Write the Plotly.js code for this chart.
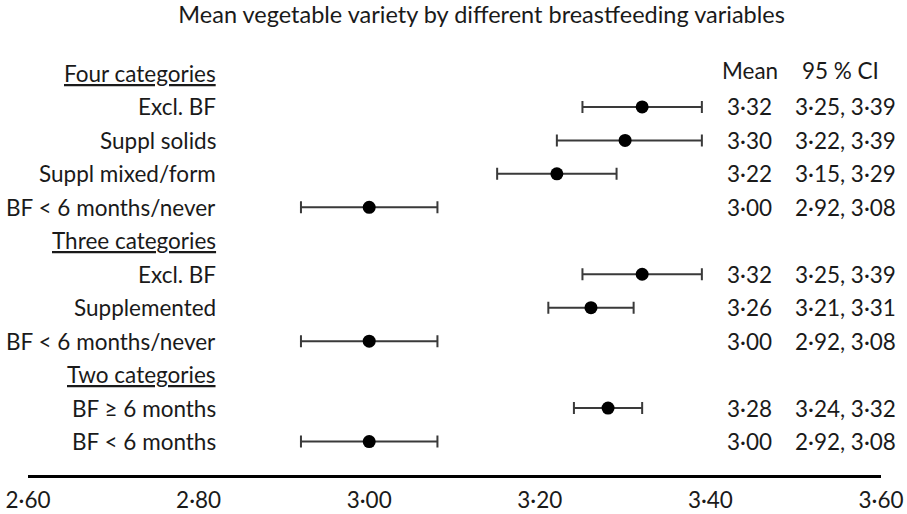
<!DOCTYPE html>
<html>
<head>
<meta charset="utf-8">
<script src="https://cdn.plot.ly/plotly-3.0.1.min.js"></script>
<style>html,body{margin:0;padding:0;background:#fff;}#chart{width:907px;height:514px;}</style>
</head>
<body>
<div id="chart"></div>
<script>
// Rows from top to bottom (headers have null values)
const rowLabels = ["Four categories", "Excl. BF", "Suppl solids", "Suppl mixed/form", "BF < 6 months/never",
  "Three categories", "Excl. BF", "Supplemented", "BF < 6 months/never",
  "Two categories", "BF \u2265 6 months", "BF < 6 months"];
const isHeader = [true, false, false, false, false, true, false, false, false, true, false, false];
const means = [null, 3.32, 3.30, 3.22, 3.00, null, 3.32, 3.26, 3.00, null, 3.28, 3.00];
const lower = [null, 3.25, 3.22, 3.15, 2.92, null, 3.25, 3.21, 2.92, null, 3.24, 2.92];
const upper = [null, 3.39, 3.39, 3.29, 3.08, null, 3.39, 3.31, 3.08, null, 3.32, 3.08];
const tickVals = [2.6, 2.8, 3.0, 3.2, 3.4, 3.6];
const tickText = ["2\u00b760", "2\u00b780", "3\u00b700", "3\u00b720", "3\u00b740", "3\u00b760"];

const fmt = v => v.toFixed(2).replace('.', '\u00b7');
const FONT = "Lato, 'Open Sans', sans-serif";
const TXT = "#1a1a1a";
const FS = 22.5;

const xs = [], ys = [], ep = [], em = [];
means.forEach((m, i) => {
  if (m === null) return;
  xs.push(m); ys.push(i);
  ep.push(upper[i] - m); em.push(m - lower[i]);
});

const trace = {
  type: 'scatter', mode: 'markers', x: xs, y: ys,
  marker: {color: '#000', size: 13},
  error_x: {type: 'data', symmetric: false, array: ep, arrayminus: em,
            color: '#3a3a3a', thickness: 2, width: 6},
  hoverinfo: 'skip', showlegend: false
};

const ann = [];
rowLabels.forEach((lab, i) => {
  ann.push({xref: 'paper', yref: 'y', x: 0.2227, y: i, xanchor: 'right', yanchor: 'middle',
    text: isHeader[i] ? '<u>' + lab + '</u>' : lab, showarrow: false,
    font: {family: FONT, size: FS, color: TXT}});
  if (means[i] !== null) {
    ann.push({xref: 'paper', yref: 'y', x: 0.8464, y: i, xanchor: 'center', yanchor: 'middle',
      text: fmt(means[i]), showarrow: false, font: {family: FONT, size: FS, color: TXT}});
    ann.push({xref: 'paper', yref: 'y', x: 0.9585, y: i, xanchor: 'center', yanchor: 'middle',
      text: fmt(lower[i]) + ', ' + fmt(upper[i]), showarrow: false, font: {family: FONT, size: FS, color: TXT}});
  }
});
ann.push({xref: 'paper', yref: 'y', x: 0.8464, y: 0, yshift: 3, xanchor: 'center', yanchor: 'middle',
  text: 'Mean', showarrow: false, font: {family: FONT, size: FS, color: TXT}});
ann.push({xref: 'paper', yref: 'y', x: 0.953, y: 0, yshift: 3, xanchor: 'center', yanchor: 'middle',
  text: '95\u202f% CI', showarrow: false, font: {family: FONT, size: FS, color: TXT}});

const layout = {
  width: 907, height: 514,
  margin: {l: 28, r: 26, t: 40, b: 39},
  paper_bgcolor: '#fff', plot_bgcolor: '#fff',
  title: {text: 'Mean vegetable variety by different breastfeeding variables',
          x: 0.531, xref: 'container', y: 0.972, yref: 'container', yanchor: 'middle',
          font: {family: FONT, size: 23.5, color: TXT}},
  xaxis: {range: [2.6, 3.6], tickvals: tickVals, ticktext: tickText,
          showgrid: false, zeroline: false, showline: true, linecolor: '#000', linewidth: 3,
          ticks: '', tickfont: {family: FONT, size: FS, color: TXT}, ticklabelstandoff: 3,
          fixedrange: true},
  yaxis: {range: [12, -1.0], visible: false, showgrid: false, zeroline: false, fixedrange: true},
  annotations: ann
};

Plotly.newPlot('chart', [trace], layout, {displayModeBar: false, staticPlot: true});
</script>
</body>
</html>
